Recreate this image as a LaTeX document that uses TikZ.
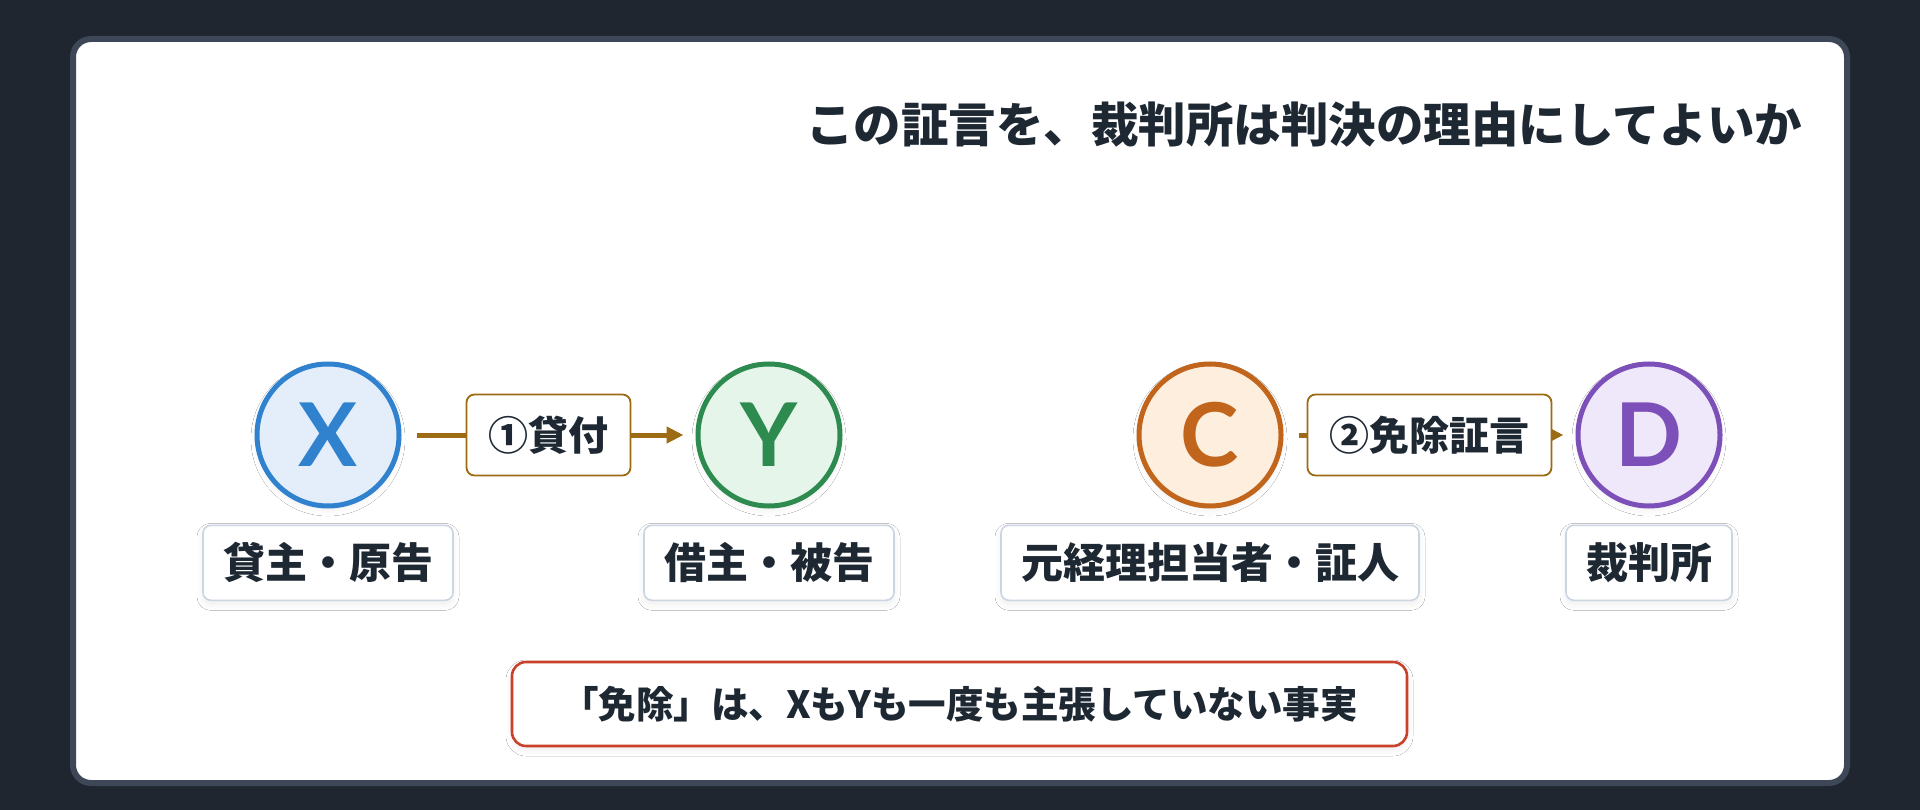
\documentclass[tikz,border=0pt]{standalone}
\usepackage{fontspec}
\setmainfont{Noto Sans CJK JP}
\newfontfamily\partyfont{Lato}
\usetikzlibrary{arrows.meta,positioning,shadows.blur}
\definecolor{pagebg}{HTML}{1F2630}
\definecolor{cardedge}{HTML}{3E4757}
\definecolor{inkdark}{HTML}{1E2833}
\definecolor{xblue}{HTML}{3182CE}
\definecolor{xfill}{HTML}{E4EEFA}
\definecolor{ygreen}{HTML}{2E8B4F}
\definecolor{yfill}{HTML}{E5F5EA}
\definecolor{corange}{HTML}{C0651B}
\definecolor{cfill}{HTML}{FDEEDE}
\definecolor{dpurple}{HTML}{7D4FB9}
\definecolor{dfill}{HTML}{EFE7FA}
\definecolor{linkgold}{HTML}{9C6B14}
\definecolor{roleedge}{HTML}{CBD5E1}
\definecolor{notered}{HTML}{C8412B}

\begin{document}
\begin{tikzpicture}[x=1pt,y=1pt,
  softshadow/.style={blur shadow={shadow blur steps=8,shadow xshift=0pt,shadow yshift=-4pt,shadow blur radius=6pt,shadow opacity=7}},
  party/.style={circle,line width=5pt,minimum size=142pt,inner sep=0pt,font=\partyfont\fontsize{88}{88}\selectfont\bfseries,softshadow},
  rolebox/.style={draw=roleedge,line width=1.6pt,fill=white,rounded corners=8pt,minimum height=75pt,inner xsep=20pt,inner ysep=0pt,text=inkdark,font=\fontsize{42}{48}\selectfont\bfseries,softshadow},
  actbox/.style={draw=linkgold,line width=1.8pt,fill=white,rounded corners=8pt,minimum height=81pt,inner xsep=22pt,inner ysep=0pt,text=inkdark,font=\fontsize{40}{46}\selectfont\bfseries},
  actlink/.style={draw=linkgold,line width=5pt,-{Triangle[length=17pt,width=16pt]},shorten <=15pt,shorten >=12pt},
  notebox/.style={draw=notered,line width=2.6pt,fill=white,rounded corners=14pt,minimum width=895pt,minimum height=84pt,text=inkdark,font=\fontsize{37.5}{44}\selectfont\bfseries,softshadow}
]
  % page and card
  \fill[pagebg] (0,0) rectangle (1920,-810);
  \draw[cardedge,line width=6pt,fill=white,rounded corners=18pt] (73,-39) rectangle (1847,-783);
  \node[anchor=east,text=inkdark,font=\fontsize{47.5}{54}\selectfont\bfseries] (headline) at (1806,-125) {この証言を、裁判所は判決の理由にしてよいか};

  % parties
  \node[party,draw=xblue,fill=xfill,text=xblue] (X) at (328,-435) {X};
  \node[party,draw=ygreen,fill=yfill,text=ygreen] (Y) at (769,-435) {Y};
  \node[party,draw=corange,fill=cfill,text=corange] (C) at (1210,-435) {C};
  \node[party,draw=dpurple,fill=dfill,text=dpurple] (D) at (1649,-435) {D};

  \node[rolebox,below=16pt of X] (Xrole) {貸主・原告};
  \node[rolebox,below=16pt of Y] (Yrole) {借主・被告};
  \node[rolebox,below=16pt of C] (Crole) {元経理担当者・証人};
  \node[rolebox,below=16pt of D] (Drole) {裁判所};

  % links
  \draw[actlink] (X) -- node[actbox] (loan) {①貸付} (Y);
  \draw[actlink] (C) -- node[actbox] (testimony) {②免除証言} (D);

  \node[notebox] (note) at (959.5,-704) {「免除」は、XもYも一度も主張していない事実};
\end{tikzpicture}
\end{document}
